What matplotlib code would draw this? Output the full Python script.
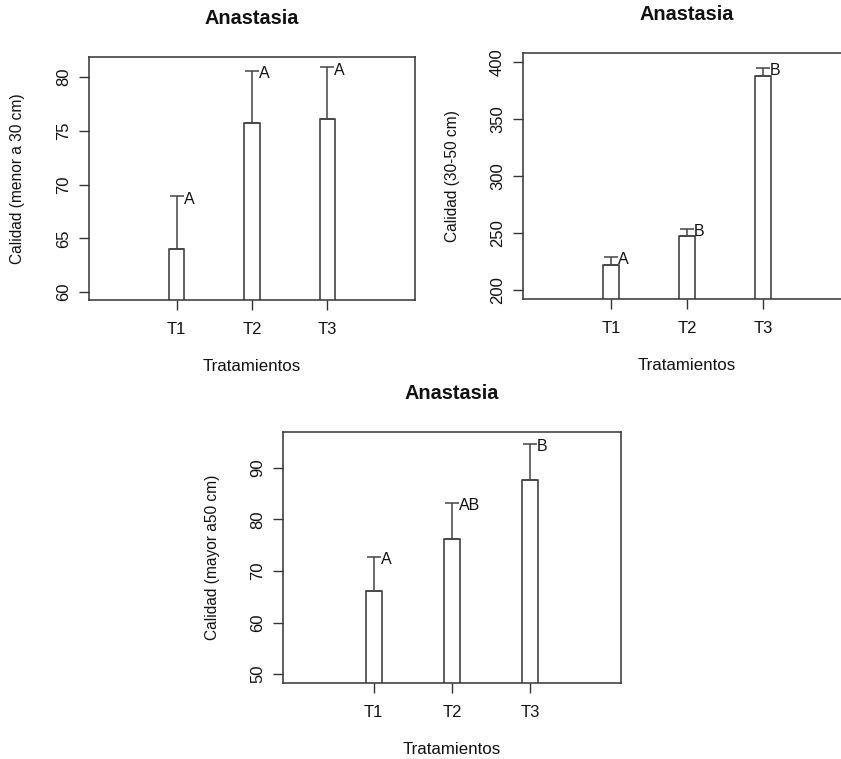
import matplotlib
matplotlib.use('Agg')
import matplotlib.pyplot as plt

plt.rcParams['font.family'] = ['Liberation Sans', 'DejaVu Sans']

tratamientos = ['T1', 'T2', 'T3']

# calidad menor a 30 cm
menor30 = [64.0, 75.7, 76.1]
menor30_err = [4.9, 4.9, 4.8]
menor30_let = ['A', 'A', 'A']

# calidad 30-50 cm
medio = [222.0, 247.5, 388.0]
medio_err = [7.0, 6.5, 7.0]
medio_let = ['A', 'B', 'B']

# calidad mayor a 50 cm
mayor50 = [66.1, 76.2, 87.6]
mayor50_err = [6.6, 7.0, 7.0]
mayor50_let = ['A', 'AB', 'B']

W, H = 841, 759
fig = plt.figure(figsize=(W / 100, H / 100), dpi=100)


def panel(box, vals, errs, lets, ylabel, ylim, yticks):
    x0, y0, x1, y1 = box  # pixels, top-left origin
    ax = fig.add_axes([x0 / W, 1 - y1 / H, (x1 - x0) / W, (y1 - y0) / H])
    pos = list(range(1, len(vals) + 1))
    ax.bar(pos, vals, width=0.2, color='white', edgecolor='#333333',
           linewidth=1.1, zorder=2)
    ax.errorbar(pos, vals, yerr=[[0] * len(errs), errs], fmt='none',
                ecolor='#444444', elinewidth=1.1, capsize=5, capthick=1.1,
                zorder=3)
    for p, v, e, t in zip(pos, vals, errs, lets):
        ax.annotate(t, (p, v + e), xytext=(5, -2), textcoords='offset points',
                    ha='left', va='center', fontsize=11.5, color='#111111')
    ax.set_xlim(-0.16, 4.16)
    ax.set_ylim(*ylim)
    ax.set_xticks(pos)
    ax.set_xticklabels(tratamientos)
    ax.set_yticks(yticks)
    ax.set_yticklabels([str(t) for t in yticks], rotation=90, va='center')
    ax.tick_params(length=7, width=1, color='#333333', labelsize=12,
                   labelcolor='#111111')
    ax.tick_params(axis='x', pad=9)
    ax.tick_params(axis='y', pad=6)
    for s in ax.spines.values():
        s.set_color('#333333')
        s.set_linewidth(1.1)
    w, h = x1 - x0, y1 - y0
    ax.set_xlabel('Tratamientos', fontsize=12.2, va='center', color='#111111')
    ax.xaxis.set_label_coords(0.5, -67 / h)
    ax.set_ylabel(ylabel, fontsize=11.2, va='center', color='#111111')
    ax.yaxis.set_label_coords(-71 / w, 0.5)
    ax.text(0.5, 1 + 38 / h, 'Anastasia', transform=ax.transAxes,
            ha='center', va='center', fontsize=14.3, fontweight='bold',
            color='#111111')
    return ax


panel((89, 57, 415, 300), menor30, menor30_err, menor30_let,
      'Calidad (menor a 30 cm)', (59.26, 81.86), [60, 65, 70, 75, 80])
panel((523, 53, 851, 299), medio, medio_err, medio_let,
      'Calidad (30-50 cm)', (192.1, 408.2), [200, 250, 300, 350, 400])
panel((283, 432, 621, 683), mayor50, mayor50_err, mayor50_let,
      'Calidad (mayor a50 cm)', (48.3, 96.9), [50, 60, 70, 80, 90])

fig.savefig('out.png', dpi=100)
